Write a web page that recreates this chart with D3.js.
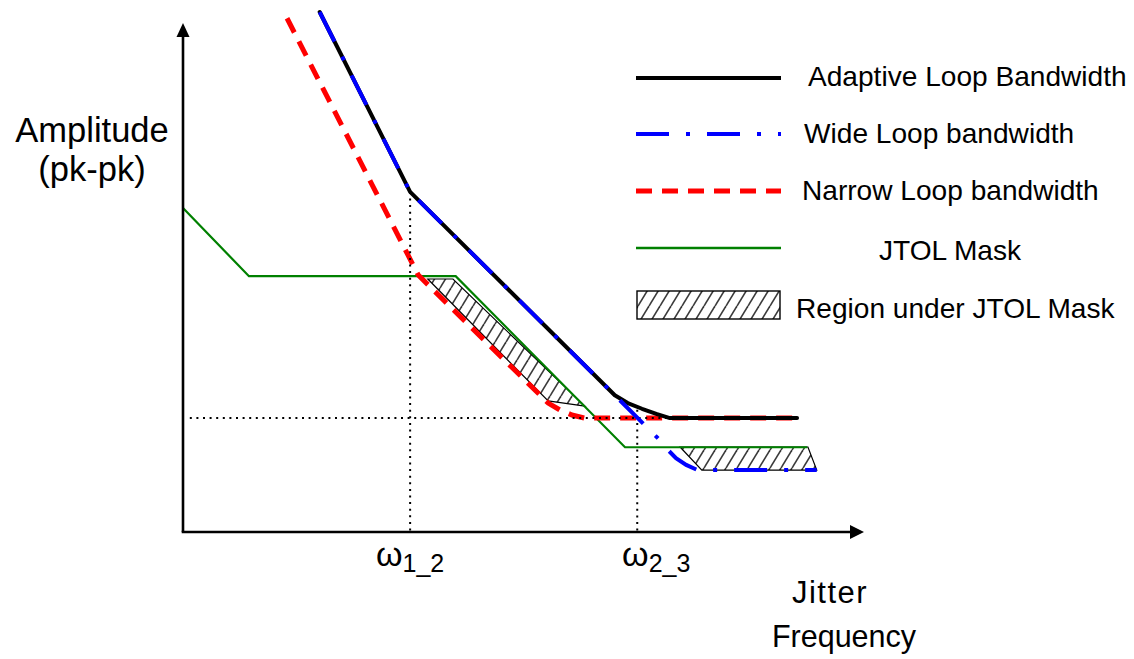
<!DOCTYPE html>
<html>
<head>
<meta charset="utf-8">
<script src="https://cdn.jsdelivr.net/npm/d3@7"></script>
<style>
  html, body { margin: 0; padding: 0; background: #fff; }
  svg text { font-family: "Liberation Sans", Arial, Helvetica, sans-serif; fill: #000; }
</style>
</head>
<body>
<svg id="chart" width="1134" height="659"></svg>
<script>
// Jitter tolerance sketch: amplitude (pk-pk) vs jitter frequency, schematic units 0..100

// Adaptive loop bandwidth response
const adaptiveBW = [[20.1, 100], [33.4, 65.4], [63.5, 26.3], [65.4, 24.8], [67.5, 23.7],
                    [69.6, 22.7], [71.6, 21.9], [90.3, 21.9]];
// Wide loop bandwidth response
const wideBW = [[20.1, 100], [33.4, 65.4], [63.5, 26.3], [70.1, 17.7], [71.3, 15.8],
                [72.5, 14.2], [74.0, 12.9], [75.7, 11.9], [93.2, 11.9]];
// Narrow loop bandwidth response
const narrowBW = [[15.3, 98.8], [34.6, 49.4], [53.7, 24.8], [55.4, 23.5], [57.2, 22.5],
                  [59.1, 21.9], [90.3, 21.9]];
// JTOL mask
const jtolMask = [[0, 62.3], [9.7, 49.2], [40.1, 49.2], [65.0, 16.3], [91.8, 16.3]];
// Regions falling under the JTOL mask
const underMaskA = [[36.0, 48.65], [39.7, 48.65], [59.1, 24.2], [53.7, 25.2]];
const underMaskB = [[73.1, 16.35], [91.9, 16.35], [93.2, 11.9], [76.3, 11.9]];

// Corner frequencies and the floor amplitude
const cornerFreqs = [33.4, 66.8];
const cornerMain = ["ω", "ω"];
const cornerSub = ["1_2", "2_3"];
const cornerTops = [65.4, 23.5];
const floorLevel = 21.9;

const legendLabels = ["Adaptive Loop Bandwidth", "Wide Loop bandwidth", "Narrow Loop bandwidth",
                      "JTOL Mask", "Region under JTOL Mask"];

const svg = d3.select("#chart");
const x = d3.scaleLinear().domain([0, 100]).range([183, 863]);
const y = d3.scaleLinear().domain([0, 100]).range([532, 12]);
const line = d3.line().x(d => x(d[0])).y(d => y(d[1]));

// Diagonal hatch fill
const defs = svg.append("defs");
const hw = 11, hh = 18;
const pat = defs.append("pattern").attr("id", "hatch")
  .attr("patternUnits", "userSpaceOnUse").attr("width", hw).attr("height", hh);
[-hw, 0, hw].forEach(o => {
  pat.append("line").attr("x1", o).attr("y1", hh).attr("x2", o + hw).attr("y2", 0)
    .attr("stroke", "#3a3a3a").attr("stroke-width", 1.6);
});

const st = {
  black: { color: "#000", width: 4, dash: null },
  blue: { color: "#0000ff", width: 4, dash: "33 17 4 17" },
  red: { color: "#ff0000", width: 5, dash: "16 10" },
  green: { color: "#008000", width: 2.2, dash: null }
};

// Hatched regions
[underMaskA, underMaskB].forEach(poly => {
  svg.append("path").attr("d", line(poly) + "Z")
    .attr("fill", "url(#hatch)").attr("stroke", "#000").attr("stroke-width", 1.2);
});

// JTOL mask
svg.append("path").attr("d", line(jtolMask)).attr("fill", "none")
  .attr("stroke", st.green.color).attr("stroke-width", st.green.width);

// Narrow loop
svg.append("path").attr("d", line(narrowBW)).attr("fill", "none")
  .attr("stroke", st.red.color).attr("stroke-width", st.red.width)
  .attr("stroke-dasharray", st.red.dash);

// Dotted guides
const dotted = g => g.attr("stroke", "#000").attr("stroke-width", 2)
  .attr("stroke-dasharray", "2 4.6").attr("fill", "none");
cornerFreqs.forEach((f, i) => {
  svg.append("line").attr("x1", x(f)).attr("x2", x(f))
    .attr("y1", y(cornerTops[i])).attr("y2", y(0)).call(dotted);
});
svg.append("line").attr("x1", x(1)).attr("x2", x(71.6))
  .attr("y1", y(floorLevel)).attr("y2", y(floorLevel)).call(dotted);

// Adaptive loop (black) then wide loop (blue dash-dot) on top
svg.append("path").attr("d", line(adaptiveBW)).attr("fill", "none")
  .attr("stroke", st.black.color).attr("stroke-width", st.black.width)
  .attr("stroke-linecap", "round").attr("stroke-linejoin", "round");
svg.append("path").attr("d", line(wideBW)).attr("fill", "none")
  .attr("stroke", st.blue.color).attr("stroke-width", st.blue.width)
  .attr("stroke-dasharray", st.blue.dash);

// Axes with arrowheads
const x0 = x(0), y0 = y(0);
svg.append("line").attr("x1", x0).attr("y1", y0).attr("x2", x0).attr("y2", 34)
  .attr("stroke", "#000").attr("stroke-width", 2.6);
svg.append("path").attr("d", `M${x0},23 L${x0 - 6.5},37 L${x0 + 6.5},37 Z`).attr("fill", "#000");
svg.append("line").attr("x1", x0 - 1.3).attr("y1", y0).attr("x2", 852).attr("y2", y0)
  .attr("stroke", "#000").attr("stroke-width", 2.6);
svg.append("path").attr("d", `M864,${y0} L850,${y0 - 7} L850,${y0 + 7} Z`).attr("fill", "#000");

// Corner frequency labels
const labelShift = [0, 19];
cornerFreqs.forEach((f, i) => {
  const t = svg.append("text").attr("x", x(f) + labelShift[i]).attr("y", 566)
    .attr("text-anchor", "middle");
  t.append("tspan").attr("font-size", 34).text(cornerMain[i]);
  t.append("tspan").attr("font-size", 25).attr("dy", 6).text(cornerSub[i]);
});

// Axis titles
svg.append("text").attr("x", 92).attr("y", 142).attr("text-anchor", "middle")
  .attr("font-size", 34.5).text("Amplitude");
svg.append("text").attr("x", 92).attr("y", 181).attr("text-anchor", "middle")
  .attr("font-size", 34.5).text("(pk-pk)");
svg.append("text").attr("x", 830).attr("y", 603).attr("text-anchor", "middle")
  .attr("font-size", 31).attr("letter-spacing", 1.5).text("Jitter");
svg.append("text").attr("x", 844).attr("y", 647).attr("text-anchor", "middle")
  .attr("font-size", 30.5).text("Frequency");

// Legend
const lgX1 = 636, lgX2 = 781;
const lgRows = [78, 134, 191, 248, 305];
const lgTextX = [808, 804, 802, 879, 796];
const lgTextY = [86, 143, 200, 260, 318];
const keys = ["black", "blue", "red", "green"];
keys.forEach((k, i) => {
  const s = st[k];
  svg.append("line").attr("x1", lgX1).attr("x2", lgX2).attr("y1", lgRows[i]).attr("y2", lgRows[i])
    .attr("stroke", s.color).attr("stroke-width", k === "green" ? 2.4 : s.width)
    .attr("stroke-dasharray", s.dash);
});
svg.append("rect").attr("x", 637).attr("y", 291).attr("width", 143).attr("height", 28)
  .attr("fill", "url(#hatch)").attr("stroke", "#000").attr("stroke-width", 1.4);
legendLabels.forEach((lab, i) => {
  svg.append("text").attr("x", lgTextX[i]).attr("y", lgTextY[i])
    .attr("font-size", 28.1).text(lab);
});
</script>
</body>
</html>
